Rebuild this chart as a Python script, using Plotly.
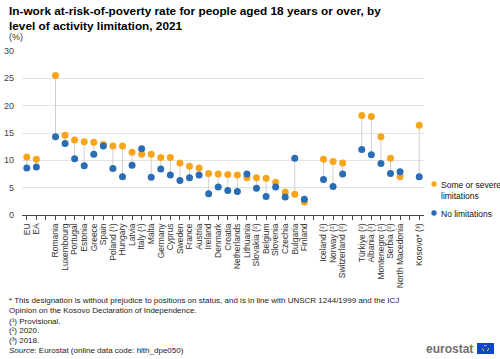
import plotly.graph_objects as go

categories = ["EU", "EA", " ",
              "Romania", "Luxembourg", "Portugal", "Estonia", "Greece", "Spain",
              "Poland (¹)", "Hungary", "Latvia", "Italy (¹)", "Malta", "Germany",
              "Cyprus", "Sweden", "France", "Austria", "Ireland", "Denmark",
              "Croatia", "Netherlands", "Lithuania", "Slovakia (²)", "Belgium",
              "Slovenia", "Czechia", "Bulgaria", "Finland", "  ",
              "Iceland (²)", "Norway (²)", "Switzerland (²)", "   ",
              "Türkiye (²)", "Albania (²)", "Montenegro (²)", "Serbia (²)",
              "North Macedonia", "    ", "Kosovo* (³)"]

some_or_severe = [10.6, 10.2, None,
                  25.5, 14.6, 13.7, 13.4, 13.3, 12.9,
                  12.6, 12.6, 11.5, 11.1, 11.1, 10.5,
                  10.5, 9.5, 8.9, 8.6, 7.6, 7.5,
                  7.4, 7.3, 6.8, 6.8, 6.7,
                  6.0, 4.2, 3.8, 2.4, None,
                  10.2, 9.8, 9.5, None,
                  18.2, 18.0, 14.3, 10.4,
                  7.0, None, 16.4]

no_limitations = [8.6, 8.8, None,
                  14.3, 13.1, 10.3, 9.0, 11.1, 12.6,
                  8.5, 7.0, 9.1, 12.1, 6.9, 8.4,
                  7.3, 6.3, 6.8, 7.3, 3.9, 5.1,
                  4.5, 4.3, 7.5, 4.9, 3.4,
                  5.1, 3.3, 10.4, 2.9, None,
                  6.5, 5.2, 7.5, None,
                  12.0, 11.0, 9.4, 7.6,
                  7.9, None, 7.0]

series_names = ["Some or severe<br>limitations", "No limitations"]
y_ticks = [0, 5, 10, 15, 20, 25, 30]

ORANGE = "#F9A51B"
BLUE = "#2A6DB5"

# plot area geometry (pixels)
L, R, T, B = 22, 76, 51, 144
W, H = 500, 359
PW, PH = W - L - R, H - T - B


def px(xp):
    return (xp - L) / PW


def py(yp):
    return (H - B - yp) / PH


# connector segments
lx, ly = [], []
for c, a, b in zip(categories, some_or_severe, no_limitations):
    if a is None or b is None:
        continue
    lx += [c, c, None]
    ly += [a, b, None]

fig = go.Figure()
fig.add_trace(go.Scatter(x=lx, y=ly, mode="lines",
                         line=dict(color="#CFCFCF", width=1),
                         showlegend=False, hoverinfo="skip"))
fig.add_trace(go.Scatter(x=categories, y=some_or_severe, mode="markers",
                         name=series_names[0],
                         marker=dict(color=ORANGE, size=7)))
fig.add_trace(go.Scatter(x=categories, y=no_limitations, mode="markers",
                         name=series_names[1],
                         marker=dict(color=BLUE, size=7)))

fig.update_layout(
    width=W, height=H,
    margin=dict(l=L, r=R, t=T, b=B, pad=0, autoexpand=False),
    paper_bgcolor="white", plot_bgcolor="white",
    font=dict(family="Liberation Sans, Arial, sans-serif", color="#333"),
    showlegend=False,
    xaxis=dict(type="category", categoryorder="array", categoryarray=categories,
               tickmode="array", tickvals=categories, ticktext=categories,
               range=[-0.5, len(categories) - 0.5], automargin=False,
               tickangle=-90, tickfont=dict(size=8.5, color="#333"),
               showgrid=False, showline=True, linecolor="#444", linewidth=1,
               ticks="outside", ticklen=4, tickcolor="#444", tickwidth=1),
    yaxis=dict(range=[0, 30], tickvals=y_ticks, tickfont=dict(size=9, color="#444"),
               automargin=False,
               showgrid=True, gridcolor="#E3E3E3", gridwidth=1,
               zeroline=False, showline=False, ticks="", ticklabelstandoff=7),
)

# manual legend
for name, col, yp in [(series_names[0], ORANGE, 184), (series_names[1], BLUE, 213)]:
    r = 2.7
    fig.add_shape(type="circle", xref="paper", yref="paper",
                  x0=px(434 - r), x1=px(434 + r), y0=py(yp + r), y1=py(yp - r),
                  fillcolor=col, line=dict(width=0))
    fig.add_annotation(text=name, xref="paper", yref="paper",
                       x=px(439), y=py(yp - 6.5), xanchor="left", yanchor="top",
                       align="left", showarrow=False,
                       font=dict(size=8.5, color="#111"))

fig.add_annotation(text="<b>In-work at-risk-of-poverty rate for people aged 18 years or over, by<br>level of activity limitation, 2021</b>",
                   xref="paper", yref="paper", x=px(7), y=py(2),
                   xanchor="left", yanchor="top", align="left", showarrow=False,
                   font=dict(size=11.8, color="#000"))
fig.add_annotation(text="(%)", xref="paper", yref="paper", x=px(7), y=py(37),
                   xanchor="left", yanchor="middle", showarrow=False,
                   font=dict(size=9, color="#333"))

foot = [
    ("* This designation is without prejudice to positions on status, and is in line with UNSCR 1244/1999 and the ICJ", 300),
    ("Opinion on the Kosovo Declaration of Independence.", 310),
    ("(¹) Provisional.", 321.5),
    ("(²) 2020.", 330.5),
    ("(³) 2018.", 340),
    ("<i>Source</i>: Eurostat (online data code: hlth_dpe050)", 350),
]
for t, yp in foot:
    fig.add_annotation(text=t, xref="paper", yref="paper",
                       x=px(7), y=py(yp),
                       xanchor="left", yanchor="middle", showarrow=False,
                       font=dict(size=8, color="#222"))

# eurostat logo
fig.add_annotation(text="<b>eurostat</b>", xref="paper", yref="paper",
                   x=px(475), y=py(349),
                   xanchor="right", yanchor="middle", showarrow=False,
                   font=dict(size=12, color="#707070"))
fig.add_shape(type="rect", xref="paper", yref="paper",
              x0=px(477), x1=px(494), y0=py(354), y1=py(343),
              fillcolor="#0E47CB", line=dict(width=0))
fig.add_shape(type="circle", xref="paper", yref="paper",
              x0=px(482.5), x1=px(488.5), y0=py(351.5), y1=py(345.5),
              line=dict(color="#FFD617", width=1, dash="dot"))

fig.write_html("out.html", config={"displayModeBar": False},
               post_script="document.body.style.margin='0';document.body.style.padding='0';")
